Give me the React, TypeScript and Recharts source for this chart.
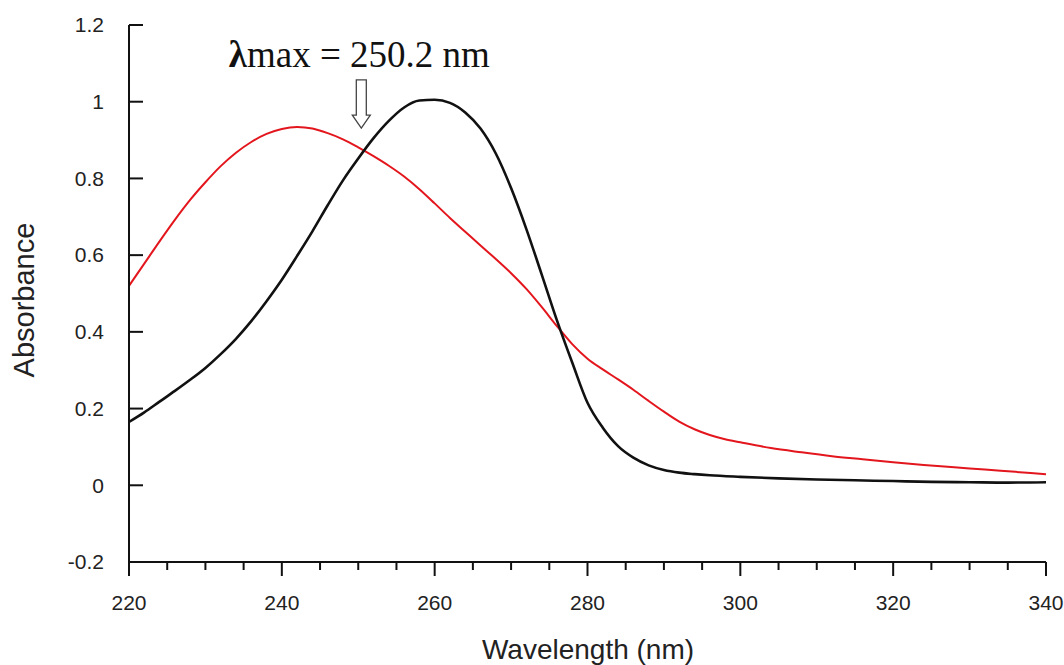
import React from 'react';
import { LineChart, Line, XAxis, YAxis, ReferenceLine } from 'recharts';

// Red spectrum
const redNm = [
  220, 222, 224, 226, 228, 230, 232, 234, 236, 238, 240, 242, 244, 246, 248, 250, 252, 254, 256, 258,
  260, 262, 264, 266, 268, 270, 272, 274, 276, 278, 280, 282, 284, 286, 288, 290, 292, 294, 296, 298,
  300, 304, 308, 312, 316, 320, 324, 328, 332, 336, 340,
];
const redAbs = [
  0.52, 0.578, 0.636, 0.692, 0.744, 0.79, 0.832, 0.867, 0.895, 0.916, 0.929, 0.934, 0.93, 0.918, 0.902, 0.881, 0.858, 0.833, 0.805, 0.772,
  0.735, 0.697, 0.661, 0.625, 0.59, 0.553, 0.512, 0.465, 0.415, 0.368, 0.33, 0.302, 0.276, 0.249, 0.22, 0.192, 0.166, 0.146, 0.131, 0.12,
  0.112, 0.097, 0.086, 0.076, 0.068, 0.06, 0.053, 0.047, 0.041, 0.035, 0.029,
];

// Black spectrum
const blackNm = [
  220, 222, 224, 226, 228, 230, 232, 234, 236, 238, 240, 242, 244, 246, 248, 250, 252, 254, 256, 258,
  260, 262, 264, 266, 268, 270, 272, 274, 276, 278, 280, 282, 284, 286, 288, 290, 292, 294, 296, 300,
  305, 310, 315, 320, 325, 330, 335, 340,
];
const blackAbs = [
  0.165, 0.19, 0.218, 0.246, 0.275, 0.306, 0.342, 0.382, 0.428, 0.48, 0.536, 0.598, 0.662, 0.73, 0.795, 0.852, 0.905, 0.95, 0.985, 1.003,
  1.005, 0.997, 0.972, 0.93, 0.865, 0.775, 0.668, 0.55, 0.43, 0.32, 0.215, 0.15, 0.102, 0.072, 0.052, 0.04, 0.033, 0.029, 0.026, 0.022,
  0.018, 0.015, 0.013, 0.011, 0.009, 0.008, 0.007, 0.008,
];

const xTicks = [
  220, 225, 230, 235, 240, 245, 250, 255, 260, 265, 270, 275, 280, 285, 290, 295, 300, 305, 310, 315, 320, 325, 330, 335, 340,
];
const yTicks = [-0.2, 0, 0.2, 0.4, 0.6, 0.8, 1, 1.2];

const lambdaMax = 250.4;
const arrowTop = 1.057;
const arrowTip = 0.931;

const redData = redNm.map((nm, i) => ({ nm, abs: redAbs[i] }));
const blackData = blackNm.map((nm, i) => ({ nm, abs: blackAbs[i] }));

const sans = '"Liberation Sans", Arial, Helvetica, sans-serif';

const XTick = (props: any) => {
  const { x, y, payload } = props;
  const major = payload.value % 20 === 0;
  return (
    <g>
      <line x1={x} y1={y} x2={x} y2={y + (major ? 14 : 8)} stroke="#111" strokeWidth={2} />
      {major && (
        <text x={x} y={y + 48} textAnchor="middle" fontFamily={sans} fontSize={21} fill="#222">
          {payload.value}
        </text>
      )}
    </g>
  );
};

const YTick = (props: any) => {
  const { x, y, payload } = props;
  return (
    <g>
      {payload.value !== -0.2 && <line x1={x} y1={y} x2={x + 14} y2={y} stroke="#111" strokeWidth={2} />}
      <text x={x - 25} y={y} dy="0.35em" textAnchor="end" fontFamily={sans} fontSize={21} fill="#222">
        {String(payload.value)}
      </text>
    </g>
  );
};

// hollow down arrow with the lambda-max note above it
const ArrowNote = (props: any) => {
  const { x1, y1, y2 } = props;
  const cx = x1;
  const top = Math.min(y1, y2);
  const tip = Math.max(y1, y2);
  const headH = 13;
  const pts = [
    [cx - 5, top],
    [cx + 5, top],
    [cx + 5, tip - headH],
    [cx + 9, tip - headH],
    [cx, tip],
    [cx - 9, tip - headH],
    [cx - 5, tip - headH],
  ]
    .map((p) => p.join(','))
    .join(' ');
  return (
    <g>
      <polygon points={pts} fill="#fff" stroke="#444" strokeWidth={1.3} />
      <text
        x={cx - 2}
        y={top - 13}
        textAnchor="middle"
        fontFamily='"Liberation Serif", "Times New Roman", serif'
        fontSize={37}
        fill="#111"
      >
        <tspan fontWeight="bold">λ</tspan>max = 250.2 nm
      </text>
    </g>
  );
};

export default function App() {
  return (
    <div style={{ position: 'absolute', left: 0, top: 0, width: 1064, height: 665, background: '#fff' }}>
      <LineChart width={1064} height={665} margin={{ top: 25, right: 18, left: 69, bottom: 43 }}>
        <XAxis
          type="number"
          dataKey="nm"
          domain={[220, 340]}
          ticks={xTicks}
          interval={0}
          allowDataOverflow
          tick={<XTick />}
          tickLine={false}
          tickSize={0}
          tickMargin={0}
          height={60}
          axisLine={{ stroke: '#111', strokeWidth: 2 }}
        />
        <YAxis
          type="number"
          dataKey="abs"
          domain={[-0.2, 1.2]}
          ticks={yTicks}
          interval={0}
          allowDataOverflow
          tick={<YTick />}
          tickLine={false}
          tickSize={0}
          tickMargin={0}
          width={60}
          axisLine={{ stroke: '#111', strokeWidth: 2 }}
        />
        <Line
          data={redData}
          dataKey="abs"
          type="monotone"
          stroke="#e3161d"
          strokeWidth={2}
          dot={false}
          isAnimationActive={false}
        />
        <Line
          data={blackData}
          dataKey="abs"
          type="monotone"
          stroke="#111"
          strokeWidth={2.6}
          dot={false}
          isAnimationActive={false}
        />
        <ReferenceLine
          segment={[
            { x: lambdaMax, y: arrowTop },
            { x: lambdaMax, y: arrowTip },
          ]}
          shape={<ArrowNote />}
          ifOverflow="visible"
        />
        <text x={588} y={659} textAnchor="middle" fontFamily={sans} fontSize={28} fill="#222">
          Wavelength (nm)
        </text>
        <text
          x={34}
          y={300}
          textAnchor="middle"
          transform="rotate(-90 34 300)"
          fontFamily={sans}
          fontSize={29}
          fill="#222"
        >
          Absorbance
        </text>
      </LineChart>
    </div>
  );
}
